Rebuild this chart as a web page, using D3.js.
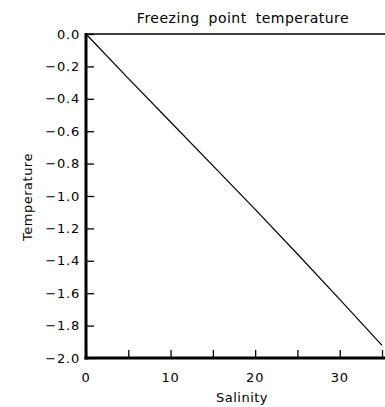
<!DOCTYPE html>
<html><head><meta charset="utf-8">
<script src="https://cdn.jsdelivr.net/npm/d3@7"></script>
<style>body{margin:0;background:#fff}svg{display:block}text{font-family:"DejaVu Sans",sans-serif;fill:#000}</style>
</head><body>
<script>
const salinity = [0, 5, 10, 15, 20, 25, 30, 35];
const freezingTemp = [0.0, -0.274, -0.543, -0.812, -1.083, -1.358, -1.638, -1.922];
const xTicks = [0, 5, 10, 15, 20, 25, 30, 35];
const xTickLabels = [0, 10, 20, 30];
const yTicks = [0.0, -0.2, -0.4, -0.6, -0.8, -1.0, -1.2, -1.4, -1.6, -1.8, -2.0];

const W = 385, H = 407;
const svg = d3.select("body").append("svg").attr("width", W).attr("height", H);
const x0 = 86, y0 = 34, y1 = 358;
const x = d3.scaleLinear().domain([0, 35]).range([x0, 382]);
const y = d3.scaleLinear().domain([0, -2]).range([y0, y1]);

// top border
svg.append("line").attr("x1", x0).attr("x2", W).attr("y1", y0).attr("y2", y0)
  .attr("stroke", "#000").attr("stroke-width", 1.5);

// data line
svg.append("path").datum(salinity.map((s, i) => [s, freezingTemp[i]]))
  .attr("d", d3.line().x(d => x(d[0])).y(d => y(d[1])))
  .attr("fill", "none").attr("stroke", "#000").attr("stroke-width", 1.2);

// y axis
const yAx = svg.append("g").attr("transform", `translate(${x0},0)`)
  .call(d3.axisRight(y).tickValues(yTicks).tickSize(8).tickFormat(""));
yAx.select(".domain").remove();
yAx.selectAll(".tick line").attr("stroke-width", 1.3);
svg.append("line").attr("x1", x0).attr("x2", x0).attr("y1", y0 - 1).attr("y2", y1 + 1.5)
  .attr("stroke", "#000").attr("stroke-width", 3);
svg.selectAll(".ylab").data(yTicks).enter().append("text")
  .attr("x", 80).attr("y", d => y(d) + 4.5).attr("text-anchor", "end")
  .style("font-size", "13px").style("letter-spacing", "0.8px")
  .text(d => d3.format(".1f")(d).replace("-", "\u2212"));

// x axis
const xAx = svg.append("g").attr("transform", `translate(0,${y1})`)
  .call(d3.axisTop(x).tickValues(xTicks).tickSize(8).tickFormat(""));
xAx.select(".domain").remove();
xAx.selectAll(".tick line").attr("stroke-width", 1.3);
svg.append("line").attr("x1", x0 - 1.5).attr("x2", W).attr("y1", y1).attr("y2", y1)
  .attr("stroke", "#000").attr("stroke-width", 3);
svg.selectAll(".xlab").data(xTickLabels).enter().append("text")
  .attr("x", d => x(d)).attr("y", 382).attr("text-anchor", "middle")
  .style("font-size", "13px").style("letter-spacing", "0.8px")
  .text(d => d);

// labels
svg.append("text").attr("x", 242).attr("y", 402).attr("text-anchor", "middle")
  .style("font-size", "13px").style("letter-spacing", "0.5px").text("Salinity");
svg.append("text").attr("transform", "translate(32,197) rotate(-90)").attr("text-anchor", "middle")
  .style("font-size", "13px").style("letter-spacing", "0.5px").text("Temperature");
svg.append("text").attr("x", 243).attr("y", 23).attr("text-anchor", "middle")
  .style("font-size", "14px").style("letter-spacing", "0.5px").style("word-spacing", "4px")
  .text("Freezing point temperature");
</script>
</body></html>
